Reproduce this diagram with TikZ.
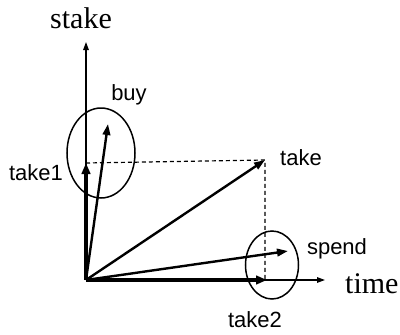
\documentclass[tikz,border=0pt]{standalone}
\usepackage{fontspec}
\setmainfont{Liberation Serif}
\setsansfont{Liberation Sans}
\usetikzlibrary{arrows.meta, shapes.geometric}

\begin{document}
\begin{tikzpicture}[
    x=1pt, y=-1pt,
    axis/.style={-{Triangle[length=8pt, width=5.5pt]}, line width=1.3pt},
    vec/.style={-{Triangle[length=11pt, width=7.5pt]}, line width=2.4pt},
    heavyvec/.style={-{Triangle[length=11pt, width=8.5pt]}, line width=3.4pt},
    guide/.style={dash pattern=on 4pt off 3pt, line width=1.2pt},
    group/.style={ellipse, draw, line width=1.5pt, inner sep=0pt},
    lbl/.style={font=\sffamily\fontsize{22}{22}\selectfont, anchor=base, inner sep=0pt},
    axlbl/.style={font=\fontsize{30}{30}\selectfont, inner sep=0pt}
]
    \useasboundingbox (0,0) rectangle (400,335);

    % Points
    \coordinate (O) at (86,280);
    \coordinate (ytop) at (86,42);
    \coordinate (xend) at (325,280);
    \coordinate (t1) at (86,163);
    \coordinate (b) at (108,124);
    \coordinate (t) at (265,160);
    \coordinate (s) at (288,251);
    \coordinate (t2) at (267,280);

    % Groups
    \node[group, minimum width=68pt, minimum height=90pt] (early) at (101,153) {};
    \node[group, minimum width=53pt, minimum height=68pt] (late) at (272,265) {};

    % Guides
    \draw[guide] (t1) -- (t) -- (t |- O);

    % Axes
    \draw[axis] (O) -- (ytop);
    \draw[axis] (O) -- (xend);

    % Vectors
    \draw[heavyvec] (O) -- (t1);
    \draw[heavyvec] (O) -- (t2);
    \draw[vec] (O) -- (b);
    \draw[vec] (O) -- (t);
    \draw[vec] (O) -- (s);

    % Labels
    \node[axlbl, anchor=base] (stakelbl) at (81,28) {stake};
    \node[axlbl, anchor=base west] (timelbl) at (345,293) {time};
    \node[lbl] (take1lbl) at (36,180) {take1};
    \node[lbl] (buylbl) at (129,100) {buy};
    \node[lbl] (takelbl) at (301,165) {take};
    \node[lbl] (spendlbl) at (337,254) {spend};
    \node[lbl] (take2lbl) at (255,327) {take2};
\end{tikzpicture}
\end{document}
